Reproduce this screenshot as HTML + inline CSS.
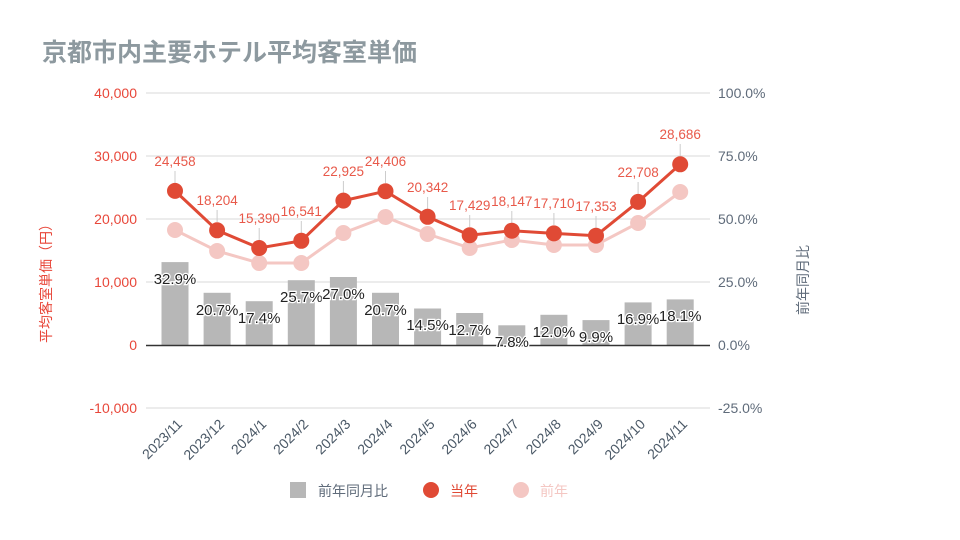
<!DOCTYPE html>
<html><head><meta charset="utf-8"><style>
body{margin:0;background:#fff;width:960px;height:540px;overflow:hidden}
svg{display:block;font-family:"Liberation Sans","Noto Sans CJK JP",sans-serif}
.bl{font-size:15px;fill:#222;stroke:#fff;stroke-width:2.5px;paint-order:stroke;text-anchor:middle}
.vl{font-size:13.5px;fill:#e8594a;text-anchor:middle}
.xl{font-size:14px;fill:#4a5866;text-anchor:end}
</style></head><body>
<svg width="960" height="540" viewBox="0 0 960 540">
<text x="42" y="61" font-size="25" font-weight="bold" fill="#8d999f">京都市内主要ホテル平均客室単価</text>
<g stroke="#d9d9d9" stroke-width="1">
<line x1="146" y1="93" x2="710" y2="93"/><line x1="146" y1="156" x2="710" y2="156"/>
<line x1="146" y1="219" x2="710" y2="219"/><line x1="146" y1="282" x2="710" y2="282"/>
<line x1="146" y1="408" x2="710" y2="408"/></g>
<g font-size="14" fill="#e8473a" text-anchor="end">
<text x="137" y="98">40,000</text><text x="137" y="161">30,000</text><text x="137" y="224">20,000</text>
<text x="137" y="287">10,000</text><text x="137" y="350">0</text><text x="137" y="413">-10,000</text></g>
<g font-size="14" fill="#5f6b7a">
<text x="718" y="98">100.0%</text><text x="718" y="161">75.0%</text><text x="718" y="224">50.0%</text>
<text x="718" y="287">25.0%</text><text x="718" y="350">0.0%</text><text x="718" y="413">-25.0%</text></g>
<text transform="translate(51,280) rotate(-90)" font-size="14" fill="#e8473a" text-anchor="middle">平均客室単価（円）</text>
<text transform="translate(808,280) rotate(-90)" font-size="14" fill="#5f6b7a" text-anchor="middle">前年同月比</text>
<g fill="#b7b7b7">
<rect x="161.5" y="262.1" width="27" height="82.9"/><rect x="203.6" y="292.8" width="27" height="52.2"/>
<rect x="245.7" y="301.2" width="27" height="43.8"/><rect x="287.8" y="280.2" width="27" height="64.8"/>
<rect x="329.9" y="277" width="27" height="68"/><rect x="372" y="292.8" width="27" height="52.2"/>
<rect x="414.1" y="308.5" width="27" height="36.5"/><rect x="456.2" y="313" width="27" height="32"/>
<rect x="498.3" y="325.3" width="27" height="19.7"/><rect x="540.4" y="314.8" width="27" height="30.2"/>
<rect x="582.5" y="320.1" width="27" height="24.9"/><rect x="624.6" y="302.4" width="27" height="42.6"/>
<rect x="666.7" y="299.4" width="27" height="45.6"/></g>
<line x1="146" y1="345.5" x2="710" y2="345.5" stroke="#333" stroke-width="1.5"/>
<g class="bl">
<text x="175" y="284">32.9%</text><text x="217.1" y="315">20.7%</text><text x="259.2" y="323">17.4%</text>
<text x="301.3" y="302">25.7%</text><text x="343.4" y="299">27.0%</text><text x="385.5" y="315">20.7%</text>
<text x="427.6" y="330">14.5%</text><text x="469.7" y="335">12.7%</text><text x="511.8" y="347">7.8%</text>
<text x="553.9" y="337">12.0%</text><text x="596" y="342">9.9%</text><text x="638.1" y="324">16.9%</text>
<text x="680.2" y="321">18.1%</text></g>
<polyline fill="none" stroke="#f4c7c3" stroke-width="3" points="175,230 217.1,251 259.2,263 301.3,263 343.4,233 385.5,217 427.6,234 469.7,248 511.8,240 553.9,245 596,245 638.1,223 680.2,192"/>
<g fill="#f4c7c3">
<circle cx="175" cy="230" r="8"/><circle cx="217.1" cy="251" r="8"/><circle cx="259.2" cy="263" r="8"/><circle cx="301.3" cy="263" r="8"/><circle cx="343.4" cy="233" r="8"/><circle cx="385.5" cy="217" r="8"/><circle cx="427.6" cy="234" r="8"/><circle cx="469.7" cy="248" r="8"/><circle cx="511.8" cy="240" r="8"/><circle cx="553.9" cy="245" r="8"/><circle cx="596" cy="245" r="8"/><circle cx="638.1" cy="223" r="8"/><circle cx="680.2" cy="192" r="8"/></g>
<g stroke="#ccc" stroke-width="1">
<line x1="175" y1="171" x2="175" y2="183"/><line x1="217.1" y1="210" x2="217.1" y2="222"/><line x1="259.2" y1="228" x2="259.2" y2="240"/><line x1="301.3" y1="221" x2="301.3" y2="233"/><line x1="343.4" y1="181" x2="343.4" y2="193"/><line x1="385.5" y1="171" x2="385.5" y2="183"/><line x1="427.6" y1="197" x2="427.6" y2="209"/><line x1="469.7" y1="215" x2="469.7" y2="227"/><line x1="511.8" y1="211" x2="511.8" y2="223"/><line x1="553.9" y1="213" x2="553.9" y2="225"/><line x1="596" y1="216" x2="596" y2="228"/><line x1="638.1" y1="182" x2="638.1" y2="194"/><line x1="680.2" y1="144" x2="680.2" y2="156"/></g>
<polyline fill="none" stroke="#e04a35" stroke-width="3" points="175,190.9 217.1,230.3 259.2,248 301.3,240.8 343.4,200.6 385.5,191.2 427.6,216.8 469.7,235.2 511.8,230.7 553.9,233.4 596,235.7 638.1,201.9 680.2,164.3"/>
<g fill="#e04a35">
<circle cx="175" cy="190.9" r="8"/><circle cx="217.1" cy="230.3" r="8"/><circle cx="259.2" cy="248" r="8"/><circle cx="301.3" cy="240.8" r="8"/><circle cx="343.4" cy="200.6" r="8"/><circle cx="385.5" cy="191.2" r="8"/><circle cx="427.6" cy="216.8" r="8"/><circle cx="469.7" cy="235.2" r="8"/><circle cx="511.8" cy="230.7" r="8"/><circle cx="553.9" cy="233.4" r="8"/><circle cx="596" cy="235.7" r="8"/><circle cx="638.1" cy="201.9" r="8"/><circle cx="680.2" cy="164.3" r="8"/></g>
<g class="vl">
<text x="175" y="166">24,458</text><text x="217.1" y="205">18,204</text><text x="259.2" y="223">15,390</text>
<text x="301.3" y="216">16,541</text><text x="343.4" y="176">22,925</text><text x="385.5" y="166">24,406</text>
<text x="427.6" y="192">20,342</text><text x="469.7" y="210">17,429</text><text x="511.8" y="206">18,147</text>
<text x="553.9" y="208">17,710</text><text x="596" y="211">17,353</text><text x="638.1" y="177">22,708</text>
<text x="680.2" y="139">28,686</text></g>
<g class="xl">
<text transform="translate(183,425) rotate(-45)">2023/11</text><text transform="translate(225.1,425) rotate(-45)">2023/12</text>
<text transform="translate(267.2,425) rotate(-45)">2024/1</text><text transform="translate(309.3,425) rotate(-45)">2024/2</text>
<text transform="translate(351.4,425) rotate(-45)">2024/3</text><text transform="translate(393.5,425) rotate(-45)">2024/4</text>
<text transform="translate(435.6,425) rotate(-45)">2024/5</text><text transform="translate(477.7,425) rotate(-45)">2024/6</text>
<text transform="translate(519.8,425) rotate(-45)">2024/7</text><text transform="translate(561.9,425) rotate(-45)">2024/8</text>
<text transform="translate(604,425) rotate(-45)">2024/9</text><text transform="translate(646.1,425) rotate(-45)">2024/10</text>
<text transform="translate(688.2,425) rotate(-45)">2024/11</text></g>
<rect x="290" y="482" width="16" height="16" fill="#b7b7b7"/>
<text x="318" y="496" font-size="14" fill="#5f6b7a">前年同月比</text>
<circle cx="431" cy="490" r="8" fill="#e04a35"/>
<text x="450" y="496" font-size="14" fill="#e04a35">当年</text>
<circle cx="521" cy="490" r="8" fill="#f4c7c3"/>
<text x="540" y="496" font-size="14" fill="#f4c7c3">前年</text>
</svg>
</body></html>
